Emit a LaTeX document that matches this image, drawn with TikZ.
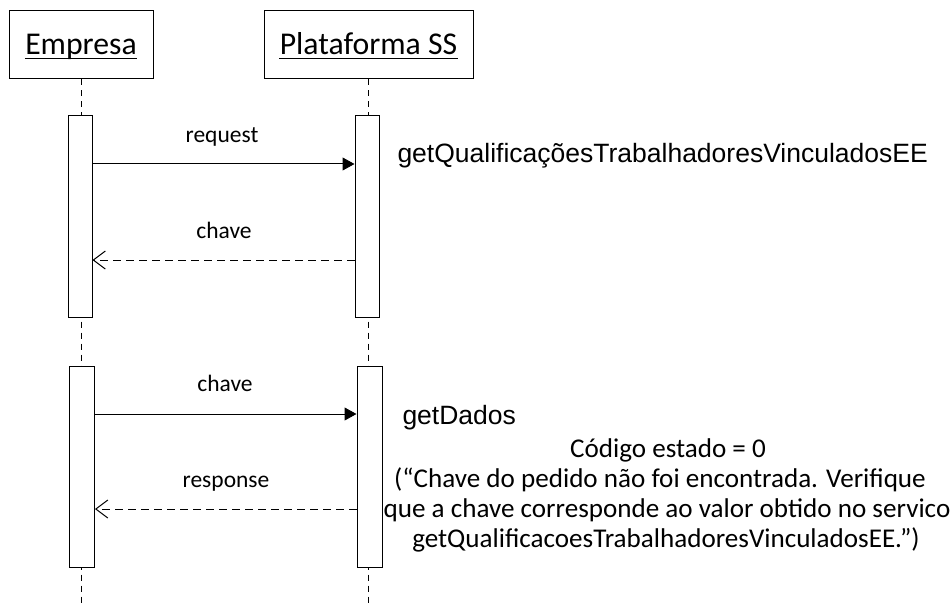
\documentclass[tikz,border=0pt]{standalone}
\usepackage{fontspec}
\setmainfont{Carlito}
\newfontfamily\arialfont{Liberation Sans}
\usetikzlibrary{arrows.meta}
\begin{document}
\begin{tikzpicture}[x=1pt,y=-1pt,
  line width=1pt,
  actbar/.style={draw, fill=white, rectangle},
  life/.style={dash pattern=on 6pt off 5pt},
  syncmsg/.style={-{Triangle[length=12pt,width=13pt]}},
  retmsg/.style={dash pattern=on 8pt off 5pt, -{Straight Barb[length=12pt,width=18pt,line width=1pt]}},
  lbl/.style={anchor=base, inner sep=0pt, font=\fontsize{23.5}{28}\selectfont},
  note/.style={anchor=base, inner sep=0pt, font=\fontsize{27.1}{30}\selectfont},
  big/.style={anchor=base, inner sep=0pt, font=\fontsize{31.7}{36}\selectfont},
  uline/.style={line width=1.4pt},
]
\useasboundingbox (0,0) rectangle (952,604);
% actors
\node[draw, rectangle, minimum width=144pt, minimum height=68pt] (ebox) at (81,45) {};
\node[big] (etxt) at (81,55) {Empresa};
\draw[uline] ([yshift=-3.5pt]etxt.base west) -- ([yshift=-3.5pt]etxt.base east);
\node[draw, rectangle, minimum width=209pt, minimum height=68pt] (pbox) at (368.5,45) {};
\node[big] (ptxt) at (368.5,55) {Plataforma SS};
\draw[uline] ([yshift=-3.5pt]ptxt.base west) -- ([yshift=-3.5pt]ptxt.base east);
% lifelines
\coordinate (ebot) at (81,604);
\coordinate (pbot) at (368,604);
\draw[life] (ebox.south -| ebot) -- (ebot);
\draw[life] (pbox.south -| pbot) -- (pbot);
% activations
\node[actbar, minimum width=24pt, minimum height=201pt] (ea1) at (80,216.5) {};
\node[actbar, minimum width=24pt, minimum height=201pt] (pa1) at (367,216.5) {};
\node[actbar, minimum width=25pt, minimum height=201pt] (ea2) at (82,466.5) {};
\node[actbar, minimum width=25pt, minimum height=201pt] (pa2) at (369.5,466.5) {};
% messages
\draw[syncmsg] (ea1.east |- 0,164) -- (pa1.west |- 0,164);
\node[lbl] (l1) at (222,143) {request};
\draw[retmsg] (pa1.west |- 0,260) -- (ea1.east |- 0,260);
\node[lbl] (l2) at (224,238) {chave};
\draw[syncmsg] (ea2.east |- 0,414) -- (pa2.west |- 0,414);
\node[lbl] (l3) at (225,391) {chave};
\draw[retmsg] (pa2.west |- 0,509) -- (ea2.east |- 0,509);
\node[lbl] (l4) at (226,487) {response};
% side texts
\node[anchor=base west, inner sep=0pt, font=\arialfont\fontsize{26.5}{30}\selectfont] (op1) at (397,163) {getQualificaçõesTrabalhadoresVinculadosEE};
\node[anchor=base west, inner sep=0pt, font=\arialfont\fontsize{26.5}{30}\selectfont] (op2) at (402,424) {getDados};
\node[note] (c1) at (668,457) {Código estado = 0};
\node[note] (c2) at (660,487) {(“Chave do pedido não foi encontrada. Verifique};
\node[note] (c3) at (667,517) {que a chave corresponde ao valor obtido no servico};
\node[note] (c4) at (666,547) {getQualificacoesTrabalhadoresVinculadosEE.”)};
\end{tikzpicture}
\end{document}
